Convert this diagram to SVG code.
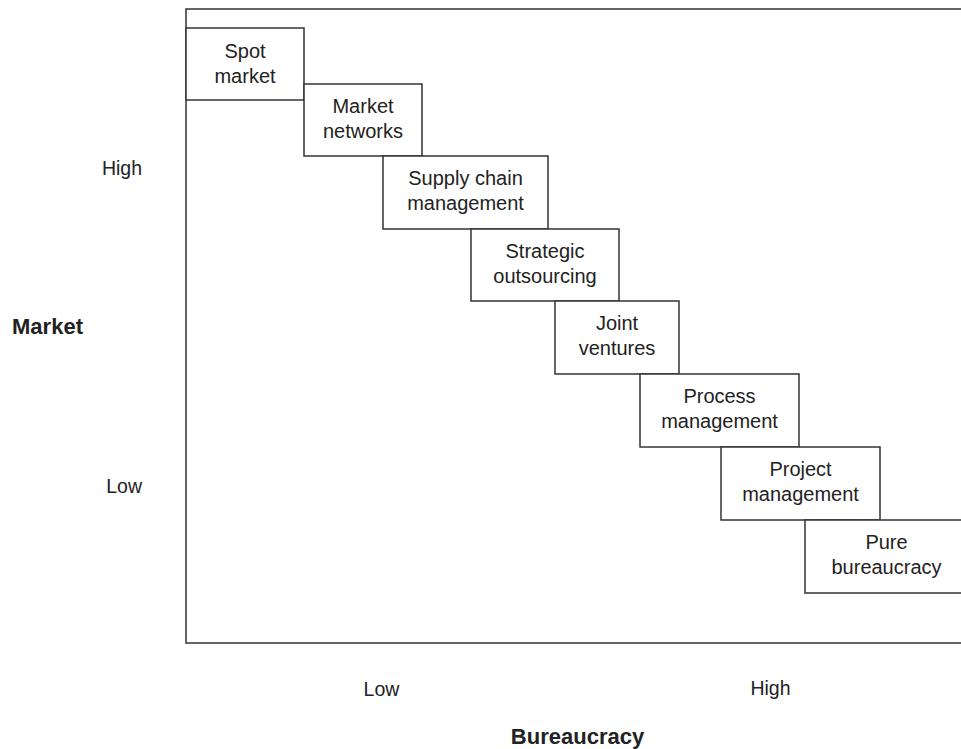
<svg xmlns="http://www.w3.org/2000/svg" width="961" height="749" viewBox="0 0 961 749">
  <style>
    .frame { fill: none; stroke: #333; stroke-width: 1.5; }
    .box { fill: #fff; stroke: #333; stroke-width: 1.5; }
    .lbl { font-family: "Liberation Sans", Arial, sans-serif; font-size: 20px; fill: #222; text-anchor: middle; }
    .axis { font-family: "Liberation Sans", Arial, sans-serif; font-size: 19.5px; fill: #222; }
    .title { font-family: "Liberation Sans", Arial, sans-serif; font-size: 22px; font-weight: bold; fill: #222; }
  </style>
  <rect width="961" height="749" fill="#fff"/>

  <!-- chart frame (open on the right) -->
  <g id="frame">
    <path class="frame" d="M961,9 H186 V643 H961"/>
  </g>

  <!-- axis labels -->
  <g id="axis-market">
    <text class="title" x="47.5" y="334" text-anchor="middle" font-size="23">Market</text>
    <text class="axis" x="142" y="175" text-anchor="end">High</text>
    <text class="axis" x="142" y="493" text-anchor="end">Low</text>
  </g>
  <g id="axis-bureaucracy">
    <text class="axis" x="381.5" y="696" text-anchor="middle">Low</text>
    <text class="axis" x="770.5" y="695" text-anchor="middle">High</text>
    <text class="title" x="577.5" y="744" text-anchor="middle">Bureaucracy</text>
  </g>

  <!-- governance forms, stepping from market to bureaucracy -->
  <g id="spot-market">
    <rect class="box" x="186" y="28" width="118" height="72"/>
    <text class="lbl" x="245" y="57.5">Spot</text>
    <text class="lbl" x="245" y="82.5">market</text>
  </g>
  <g id="market-networks">
    <rect class="box" x="304" y="84" width="118" height="72"/>
    <text class="lbl" x="363" y="113">Market</text>
    <text class="lbl" x="363" y="138">networks</text>
  </g>
  <g id="supply-chain-management">
    <rect class="box" x="383" y="156" width="165" height="73"/>
    <text class="lbl" x="465.5" y="185">Supply chain</text>
    <text class="lbl" x="465.5" y="210">management</text>
  </g>
  <g id="strategic-outsourcing">
    <rect class="box" x="471" y="229" width="148" height="72"/>
    <text class="lbl" x="545" y="258">Strategic</text>
    <text class="lbl" x="545" y="283">outsourcing</text>
  </g>
  <g id="joint-ventures">
    <rect class="box" x="555" y="301" width="124" height="73"/>
    <text class="lbl" x="617" y="330">Joint</text>
    <text class="lbl" x="617" y="355">ventures</text>
  </g>
  <g id="process-management">
    <rect class="box" x="640" y="374" width="159" height="73"/>
    <text class="lbl" x="719.5" y="403">Process</text>
    <text class="lbl" x="719.5" y="428">management</text>
  </g>
  <g id="project-management">
    <rect class="box" x="721" y="447" width="159" height="73"/>
    <text class="lbl" x="800.5" y="476">Project</text>
    <text class="lbl" x="800.5" y="501">management</text>
  </g>
  <g id="pure-bureaucracy">
    <rect class="box" x="805" y="520" width="163" height="73"/>
    <text class="lbl" x="886.5" y="549">Pure</text>
    <text class="lbl" x="886.5" y="574">bureaucracy</text>
  </g>

  <!-- no connectors in this chart -->
  <g id="connectors"/>
</svg>
